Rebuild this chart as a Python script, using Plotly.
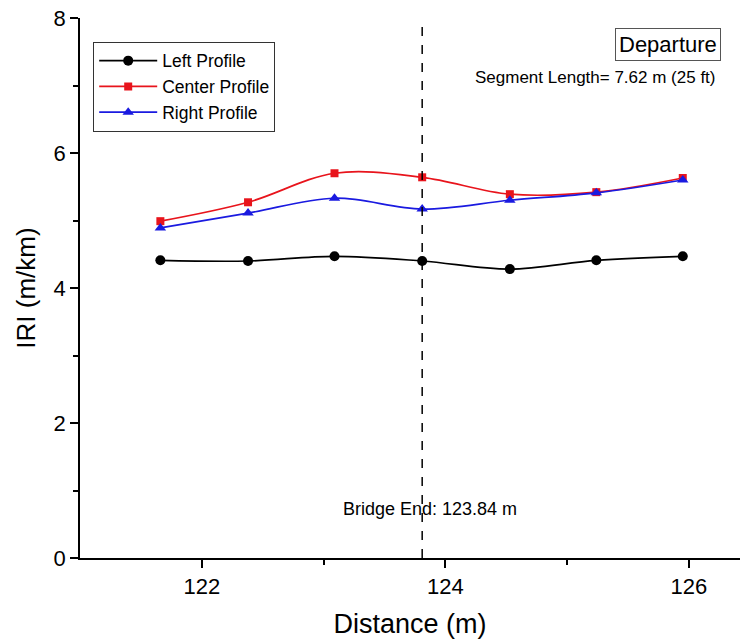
import plotly.graph_objects as go

distance = [121.66, 122.38, 123.09, 123.81, 124.53, 125.24, 125.95]
left_profile = [4.41, 4.40, 4.47, 4.40, 4.28, 4.41, 4.47]
center_profile = [4.99, 5.27, 5.70, 5.64, 5.39, 5.42, 5.63]
right_profile = [4.89, 5.11, 5.33, 5.17, 5.30, 5.41, 5.60]
bridge_end_label = "Bridge End: 123.84 m"
bridge_end_x = 123.81  # position of the dashed line

FONT = "Liberation Sans, Arial, sans-serif"

fig = go.Figure()
series = [
    ("Left Profile", left_profile, "black", "circle", 10),
    ("Center Profile", center_profile, "#e8141c", "square", 8),
    ("Right Profile", right_profile, "#1a1ae0", "triangle-up", 10),
]
for name, vals, col, sym, sz in series:
    fig.add_trace(go.Scatter(
        x=distance, y=vals, name=name, mode="lines+markers",
        line=dict(color=col, width=1.7, shape="spline", smoothing=1.0),
        marker=dict(color=col, symbol=sym, size=sz),
    ))

fig.add_shape(type="line", x0=bridge_end_x, x1=bridge_end_x, y0=0, y1=1,
              xref="x", yref="paper", line=dict(color="black", width=1.5, dash="dash"))

fig.add_annotation(x=bridge_end_x, y=0.72, xref="x", yref="y", text=bridge_end_label,
                   showarrow=False, font=dict(family=FONT, size=18, color="black"),
                   xanchor="center", yanchor="middle", xshift=8)
fig.add_annotation(x=0.971, y=0.982, xref="paper", yref="paper", text="Departure",
                   showarrow=False, font=dict(family=FONT, size=22, color="black"),
                   bordercolor="#555", borderwidth=1, borderpad=3,
                   xanchor="right", yanchor="top")
fig.add_annotation(x=0.966, y=0.89, xref="paper", yref="paper",
                   text="Segment Length= 7.62 m (25 ft)",
                   showarrow=False, font=dict(family=FONT, size=17, color="black"),
                   xanchor="right", yanchor="middle")

fig.update_layout(
    width=742, height=642,
    margin=dict(l=80, r=2, t=18, b=84),
    plot_bgcolor="white", paper_bgcolor="white",
    font=dict(family=FONT, color="black"),
    legend=dict(x=0.02, y=0.956, xanchor="left", yanchor="top",
                bordercolor="#333", borderwidth=1, bgcolor="white",
                font=dict(family=FONT, size=17.5), tracegroupgap=0,
                itemwidth=58),
    showlegend=True,
)
fig.update_xaxes(
    range=[121, 126.42], tickvals=[122, 124, 126], ticks="outside", ticklen=8,
    tickwidth=1.5, tickcolor="black", showline=True, linecolor="black", linewidth=1.5,
    showgrid=False, zeroline=False,
    minor=dict(tickvals=[123, 125], ticks="outside", ticklen=5, tickwidth=1.5, tickcolor="black"),
    tickfont=dict(family=FONT, size=22),
    title=dict(text="Distance (m)", font=dict(family=FONT, size=27), standoff=16),
)
fig.update_yaxes(
    range=[0, 8], tickvals=[0, 2, 4, 6, 8], ticks="outside", ticklen=8,
    tickwidth=1.5, tickcolor="black", showline=True, linecolor="black", linewidth=1.5,
    showgrid=False, zeroline=False,
    minor=dict(tickvals=[1, 3, 5, 7], ticks="outside", ticklen=5, tickwidth=1.5, tickcolor="black"),
    tickfont=dict(family=FONT, size=22),
    title=dict(text="IRI (m/km)", font=dict(family=FONT, size=26), standoff=10),
)

fig.write_html("out.html")
